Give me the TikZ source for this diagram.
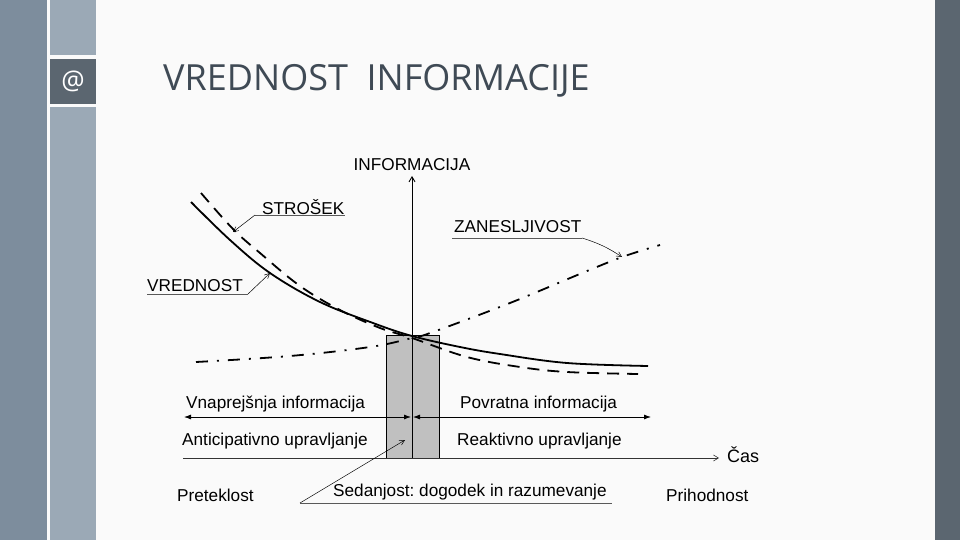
\documentclass[tikz,border=0pt]{standalone}
\usepackage{fontspec}
\setmainfont{Liberation Sans}
\newfontfamily\titlefont{Open Sans}
\usetikzlibrary{arrows.meta}
\definecolor{bandA}{HTML}{7D8D9D}
\definecolor{bandB}{HTML}{9BA9B6}
\definecolor{bandD}{HTML}{5B6670}
\definecolor{titlec}{HTML}{3F4A55}
\definecolor{boxg}{HTML}{C0C0C0}
\frenchspacing
\begin{document}
\begin{tikzpicture}[x=1pt,y=-1pt,
  lbl/.style={inner sep=0pt,font=\fontsize{17.2}{19}\selectfont,text=black},
  curve/.style={line width=1.8pt},
  uline/.style={draw=black!65,line width=0.6pt},
  leader/.style={draw=black,line width=0.5pt,-{Straight Barb[length=5pt,width=5pt]}},
  harrow/.style={line width=0.8pt,{Latex[length=7pt,width=5pt]}-{Latex[length=7pt,width=5pt]}},
  tbox/.style={draw=black,line width=0.9pt,fill=boxg}]
\useasboundingbox (0,0) rectangle (960,540);
\fill[white!98!black] (0,0) rectangle (960,540);
% side bands
\fill[bandA] (0,0) rectangle (47,540);
\fill[bandB] (50,0) rectangle (96,55);
\fill[bandB] (50,107) rectangle (96,540);
\fill[bandD] (50,59) rectangle (96,104);
\node[text=white,inner sep=0pt,font=\titlefont\fontsize{26}{28}\selectfont] (at) at (73,81) {@};
\fill[bandD] (935,0) rectangle (960,540);
% title
\node[anchor=base west,inner sep=0pt,text=titlec,font=\titlefont\fontsize{36}{40}\selectfont] (title) at (163,91) {VREDNOST\ \ INFORMACIJE};
% boxes
\draw[tbox] (386,335) rectangle (412,458);
\draw[tbox] (412,335) rectangle (439,458);
\coordinate (origin) at (412,336);
\coordinate (ytop) at (412,176);
\coordinate (xl) at (183,458);
\coordinate (xr) at (719,458);
% axes
\draw[line width=0.9pt,-{Straight Barb[length=5pt,width=6pt]}] (origin) -- (ytop);
\draw[line width=0.6pt,draw=black!80,-{Straight Barb[length=5pt,width=6pt]}] (xl) -- (xr);
\node[lbl] (yl) at (412,165) {INFORMACIJA};
\node[lbl,anchor=west,font=\fontsize{18}{20}\selectfont] (cas) at (727,455) {Čas};
% curves
\draw[curve] plot[smooth,tension=0.6] coordinates {(191,202) (230,240) (270,273) (320,302) (373,323) (412,336) (460,347) (500,354) (567,363) (648,366)};
\draw[curve,dash pattern=on 12pt off 8pt] plot[smooth,tension=0.6] coordinates {(201,193) (233,229) (260,253) (300,286) (340,310) (380,328) (412,338) (467,357) (520,367) (567,372) (638,374)};
\draw[curve,dash pattern=on 12pt off 9pt on 2pt off 9pt] plot[smooth,tension=0.6] coordinates {(196,362) (290,356) (370,347) (412,338) (433,332) (510,303) (587,271) (625,256) (660,245)};
% labels with leaders
\node[lbl,anchor=west] (strosek) at (262,207) {STROŠEK};
\coordinate (s1) at (345,215);
\coordinate (s0) at (255,215);
\coordinate (stip) at (233,232);
\draw[uline] (s0) -- (s1);
\draw[leader] (s0) -- (stip);
\node[lbl,anchor=west] (vred) at (147,286) {VREDNOST};
\coordinate (v0) at (147,294);
\coordinate (v1) at (248,294);
\coordinate (vtip) at (270,273);
\draw[uline] (v0) -- (v1);
\draw[leader] (v1) -- (vtip);
\node[lbl,anchor=west] (zan) at (454,227) {ZANESLJIVOST};
\coordinate (z0) at (452,238);
\coordinate (z1) at (582,238);
\coordinate (ztip) at (622,257);
\draw[uline] (z0) -- (z1);
\draw[leader] (z1) to[bend left=8] (ztip);
% horizontal arrows
\coordinate (al) at (184,417);
\coordinate (am) at (411,417);
\coordinate (bm) at (413,417);
\coordinate (br) at (651,417);
\draw[harrow] (al) -- (am);
\draw[harrow] (bm) -- (br);
\node[lbl,anchor=west] (vnap) at (186,404) {Vnaprejšnja informacija};
\node[lbl,anchor=west] (povr) at (460,404) {Povratna informacija};
\node[lbl,anchor=west] (anti) at (182,441) {Anticipativno upravljanje};
\node[lbl,anchor=west] (reak) at (457,441) {Reaktivno upravljanje};
\node[lbl,anchor=west] (pret) at (177,495) {Preteklost};
\node[lbl,anchor=west] (prih) at (666,495) {Prihodnost};
\node[lbl,anchor=west] (seda) at (333,492) {Sedanjost: dogodek in razumevanje};
\coordinate (d0) at (300,503);
\coordinate (d1) at (612,503);
\coordinate (dtip) at (405,440);
\draw[uline] (d0) -- (d1);
\draw[leader] (d0) -- (dtip);
\end{tikzpicture}
\end{document}
